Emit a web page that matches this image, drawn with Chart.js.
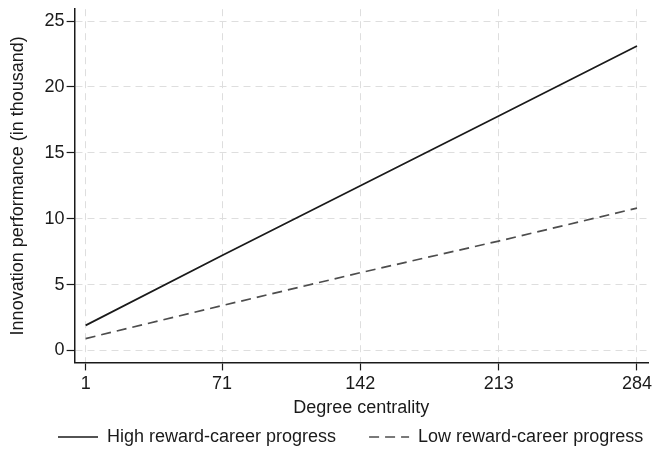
<!DOCTYPE html>
<html>
<head>
<meta charset="utf-8">
<script src="https://cdn.jsdelivr.net/npm/chart.js@4/dist/chart.umd.min.js"></script>
<style>
html,body{margin:0;padding:0;background:#fff;}
#wrap{width:652px;height:450px;position:relative;}
</style>
</head>
<body>
<div id="wrap"><canvas id="c" width="652" height="450"></canvas></div>
<script>
const xTicks = [1, 71, 142, 213, 284];
const yTicks = [0, 5, 10, 15, 20, 25];
const highSeries = [1.9, 7.2, 12.5, 17.8, 23.1];
const lowSeries = [0.9, 3.4, 5.9, 8.3, 10.8];
const seriesNames = ['High reward-career progress', 'Low reward-career progress'];

const FONT = '"Liberation Sans", Arial, sans-serif';
Chart.defaults.font.family = FONT;
Chart.defaults.color = '#1a1a1a';

const toPts = arr => xTicks.map((x, i) => ({x: x, y: arr[i]}));

// Position the legend row like the reference (start x, text centre y)
const LEGEND_START_X = 58, LEGEND_CENTER_Y = 437;
const legendPlace = {
  id: 'legendPlace',
  afterLayout(chart) {
    const l = chart.legend;
    if (!l) return;
    const p = l.options.labels.padding;
    const fs = l.options.labels.font.size || 18;
    l.left = LEGEND_START_X - p;
    l.right = chart.width + 200;
    l.width = l.right - l.left;
    l.top = LEGEND_CENTER_Y - fs / 2 - p;
    l.bottom = chart.height;
    l.height = l.bottom - l.top;
  }
};

const defaultLabels = Chart.defaults.plugins.legend.labels.generateLabels;

const gridOpts = {color: '#dedede', lineWidth: 1, drawTicks: true, tickLength: 8, tickColor: '#1a1a1a', tickBorderDash: [], tickWidth: 1.2};

new Chart(document.getElementById('c'), {
  type: 'line',
  data: {
    datasets: [
      {label: seriesNames[0], data: toPts(highSeries), borderColor: '#1a1a1a', backgroundColor: 'rgba(0,0,0,0)', borderWidth: 1.7, pointRadius: 0, fill: false, tension: 0},
      {label: seriesNames[1], data: toPts(lowSeries), borderColor: '#4d4d4d', backgroundColor: 'rgba(0,0,0,0)', borderWidth: 1.7, borderDash: [10, 6], pointRadius: 0, fill: false, tension: 0}
    ]
  },
  plugins: [legendPlace],
  options: {
    responsive: false,
    animation: false,
    layout: {padding: {left: 4, right: 0, top: 9, bottom: 1}},
    scales: {
      x: {
        type: 'linear',
        min: -4.66, max: 289.66,
        afterBuildTicks: s => { s.ticks = xTicks.map(v => ({value: v})); },
        ticks: {font: {size: 18, lineHeight: 1.5}, color: '#1a1a1a', padding: 0, maxRotation: 0, autoSkip: false},
        grid: gridOpts,
        border: {display: true, color: '#1a1a1a', width: 1.5, dash: [7, 5]},
        title: {display: true, text: 'Degree centrality', font: {size: 18}, color: '#1a1a1a', padding: {top: 0, bottom: 0}}
      },
      y: {
        type: 'linear',
        min: -0.91, max: 25.9,
        afterBuildTicks: s => { s.ticks = yTicks.map(v => ({value: v})); },
        ticks: {font: {size: 18, lineHeight: 0.8}, color: '#1a1a1a', padding: 2},
        grid: gridOpts,
        border: {display: true, color: '#1a1a1a', width: 1.5, dash: [7, 5]},
        title: {display: true, text: 'Innovation performance (in thousand)', font: {size: 18}, color: '#1a1a1a', padding: {top: 3, bottom: 14}}
      }
    },
    plugins: {
      legend: {
        position: 'bottom',
        align: 'start',
        maxHeight: 30,
        labels: {
          usePointStyle: true, pointStyle: 'line', pointStyleWidth: 40, boxWidth: 40,
          font: {size: 18}, color: '#1a1a1a', padding: 33,
          generateLabels: chart => defaultLabels(chart).map(item => {
            const ds = chart.data.datasets[item.datasetIndex];
            item.lineDash = ds.borderDash || [];
            item.strokeStyle = ds.borderColor;
            item.lineWidth = ds.borderWidth;
            item.pointStyle = 'line';
            return item;
          })
        }
      },
      tooltip: {enabled: false}
    }
  }
});
</script>
</body>
</html>
